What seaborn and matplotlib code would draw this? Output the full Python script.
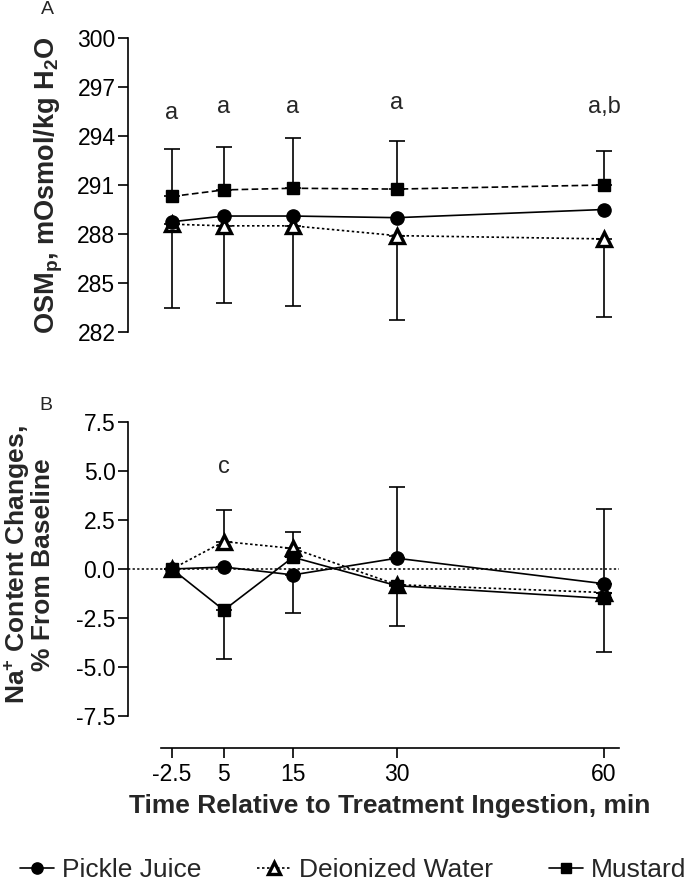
import numpy as np
import pandas as pd
import matplotlib
matplotlib.use("Agg")
import matplotlib.pyplot as plt
import seaborn as sns

# time points (min)
time = [-2.5, 5, 15, 30, 60]
series = ["Pickle Juice", "Deionized Water", "Mustard"]

# Panel A: plasma osmolality (mOsmol/kg H2O)
osm_pickle = [288.75, 289.1, 289.1, 289.0, 289.5]
osm_water = [288.6, 288.5, 288.5, 287.9, 287.7]
osm_mustard = [290.3, 290.7, 290.8, 290.75, 291.0]
osm_water_sd_lo = [5.1, 4.7, 4.9, 5.15, 4.8]
osm_mustard_sd_hi = [2.9, 2.65, 3.1, 2.95, 2.1]
osm_letters = ["a", "a", "a", "a", "a,b"]
osm_letter_y = [295.4, 295.8, 295.8, 296.0, 295.8]

# Panel B: Na+ content change (% from baseline)
na_pickle = [0.0, 0.1, -0.3, 0.55, -0.75]
na_water = [0.0, 1.4, 1.05, -0.8, -1.2]
na_mustard = [0.0, -2.1, 0.6, -0.85, -1.5]
na_pickle_sd_hi = [0, 0, 0, 3.65, 3.8]
na_pickle_sd_lo = [0, 0, 1.95, 0, 0]
na_water_sd_hi = [0, 1.6, 0.85, 0, 0]
na_mustard_sd_lo = [0, 2.5, 0, 2.05, 2.75]
na_letters = ["c"]
na_letter_x = [5]
na_letter_y = [5.2]

sns.set_style("ticks")
plt.rcParams["font.family"] = ["Liberation Sans", "DejaVu Sans"]
plt.rcParams["mathtext.fontset"] = "custom"
plt.rcParams["mathtext.bf"] = "Liberation Sans:bold"
plt.rcParams["mathtext.rm"] = "Liberation Sans:bold"
plt.rcParams["mathtext.default"] = "bf"
plt.rcParams["axes.unicode_minus"] = False

W, H = 696, 881
fig = plt.figure(figsize=(W / 100, H / 100), dpi=100)

LEFT = 128 / W
WIDTH = (619 - 128) / W
ax_a = fig.add_axes([LEFT, 1 - 332 / H, WIDTH, (332 - 38) / H])
ax_b = fig.add_axes([LEFT, 1 - 748 / H, WIDTH, (748 - 422) / H])

XLIM = (-8.87, 62.17)
tick_fs = 16.5
lw = 1.2


def draw_series(ax, y, marker, ls, label, open_marker=False, ms=9):
    sns.lineplot(x=time, y=y, ax=ax, color="black", linestyle=ls, lw=lw,
                 marker=marker, markersize=ms,
                 markerfacecolor="white" if open_marker else "black",
                 markeredgecolor="black",
                 markeredgewidth=2.4 if open_marker else 1,
                 label=label, legend=False, zorder=3)


def draw_err(ax, y, lo, hi):
    ax.errorbar(time, y, yerr=[lo, hi], fmt="none", ecolor="black",
                elinewidth=lw, capsize=6, capthick=lw, zorder=1)


# ---- Panel A ----
zeros = [0] * len(time)
draw_err(ax_a, osm_mustard, zeros, osm_mustard_sd_hi)
draw_err(ax_a, osm_water, osm_water_sd_lo, zeros)
draw_series(ax_a, osm_water, "^", (0, (1.5, 1.5)), series[1], open_marker=True, ms=10.5)
draw_series(ax_a, osm_pickle, "o", "-", series[0], ms=9.5)
draw_series(ax_a, osm_mustard, "s", (0, (4, 2)), series[2], ms=9)
for x, yv, t in zip(time, osm_letter_y, osm_letters):
    ax_a.text(x, yv, t, ha="center", va="center", fontsize=17)

ax_a.set_xlim(*XLIM)
ax_a.set_ylim(282, 300)
ax_a.set_yticks(np.arange(282, 301, 3))
ax_a.set_xticks([])
for s in ["top", "right", "bottom"]:
    ax_a.spines[s].set_visible(False)

# ---- Panel B ----
ax_b.axhline(0, color="black", lw=1.1, ls=(0, (1.5, 1.5)), zorder=0)
draw_err(ax_b, na_water, zeros, na_water_sd_hi)
draw_err(ax_b, na_mustard, na_mustard_sd_lo, zeros)
draw_err(ax_b, na_pickle, na_pickle_sd_lo, na_pickle_sd_hi)
draw_series(ax_b, na_water, "^", (0, (1.5, 1.5)), series[1], open_marker=True, ms=10.5)
draw_series(ax_b, na_pickle, "o", "-", series[0], ms=9.5)
draw_series(ax_b, na_mustard, "s", "-", series[2], ms=9)
for x, yv, t in zip(na_letter_x, na_letter_y, na_letters):
    ax_b.text(x, yv, t, ha="center", va="center", fontsize=17)

ax_b.set_xlim(*XLIM)
ax_b.set_ylim(-7.5 - 32 / 19.6, 7.5)
ax_b.set_yticks(np.arange(-7.5, 7.6, 2.5))
ax_b.yaxis.set_major_formatter(matplotlib.ticker.FormatStrFormatter("%.1f"))
ax_b.set_xticks(time)
ax_b.set_xticklabels(["-2.5", "5", "15", "30", "60"])
ax_b.spines["left"].set_bounds(-7.5, 7.5)
ax_b.spines["bottom"].set_bounds(-4.1, XLIM[1])
for s in ["top", "right"]:
    ax_b.spines[s].set_visible(False)

for ax in (ax_a, ax_b):
    ax.set_xlabel("")
    ax.set_ylabel("")
    for s in ax.spines.values():
        s.set_linewidth(1.2)
        s.set_color("black")
    ax.tick_params(axis="both", labelsize=tick_fs, length=7, width=1.2,
                   colors="black", pad=2)
    ax.tick_params(axis="x", pad=4)
    ax.set_facecolor("none")

# axis labels
fig.text(49 / W, 1 - 185 / H, r"OSM$_{p}$, mOsmol/kg H$_{2}$O", rotation=90,
         ha="center", va="center", fontsize=19.5, fontweight="bold")
fig.text(29 / W, 1 - 565 / H, "Na$^{+}$ Content Changes,\n% From Baseline",
         rotation=90, ha="center", va="center", fontsize=19,
         fontweight="bold", multialignment="center", linespacing=0.95)
fig.text(390 / W, 1 - 806 / H, "Time Relative to Treatment Ingestion, min",
         ha="center", va="center", fontsize=19, fontweight="bold")
fig.text(47 / W, 1 - 9 / H, "A", ha="center", va="center", fontsize=14)
fig.text(46 / W, 1 - 405 / H, "B", ha="center", va="center", fontsize=14)

handles, labels = ax_b.get_legend_handles_labels()
order = [labels.index(s) for s in series]
fig.legend([handles[i] for i in order], [labels[i] for i in order],
           loc="center left", bbox_to_anchor=(20 / W, 1 - 870 / H), ncol=3,
           frameon=False, fontsize=19, handlelength=1.3, handletextpad=0.3,
           columnspacing=2.1, borderpad=0, borderaxespad=0, markerscale=0.85)

fig.savefig("out.png", dpi=100)
